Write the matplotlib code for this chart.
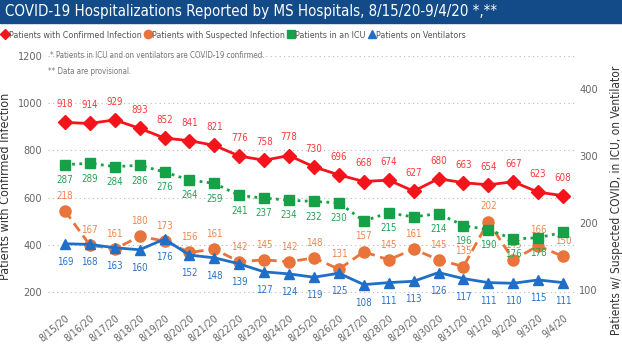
import matplotlib.pyplot as plt
import matplotlib.patches as mpatches
from matplotlib.lines import Line2D

plt.rcParams['font.family'] = ['DejaVu Sans']
plt.rcParams['font.stretch'] = 'condensed'

dates = ['8/15/20', '8/16/20', '8/17/20', '8/18/20', '8/19/20', '8/20/20', '8/21/20',
         '8/22/20', '8/23/20', '8/24/20', '8/25/20', '8/26/20', '8/27/20', '8/28/20',
         '8/29/20', '8/30/20', '8/31/20', '9/1/20', '9/2/20', '9/3/20', '9/4/20']
confirmed = [918, 914, 929, 893, 852, 841, 821, 776, 758, 778, 730, 696, 668, 674,
             627, 680, 663, 654, 667, 623, 608]
suspected = [218, 167, 161, 180, 173, 156, 161, 142, 145, 142, 148, 131, 157, 145,
             161, 145, 135, 202, 145, 166, 150]
icu = [287, 289, 284, 286, 276, 264, 259, 241, 237, 234, 232, 230, 203, 215,
       209, 214, 196, 190, 176, 178, 186]
vent = [169, 168, 163, 160, 176, 152, 148, 139, 127, 124, 119, 125, 108, 111,
        113, 126, 117, 111, 110, 115, 111]
# labels hidden in the original (overlap)
icu_hidden = [12, 14, 20]

RED = '#F5141B'
ORANGE = '#E8743B'
GREEN = '#16A047'
BLUE = '#1F6FC9'
GREY = '#666666'

fig = plt.figure(figsize=(6.22, 3.52), dpi=100)
W, H = 622, 352

# title bar
fig.patches.append(mpatches.Rectangle((0, 1 - 23 / H), 1, 23 / H, transform=fig.transFigure,
                                      color='#124B87', zorder=0))
fig.text(5 / W, 1 - 11.5 / H, 'COVID-19 Hospitalizations Reported by MS Hospitals, 8/15/20-9/4/20 *,**',
         color='white', fontsize=10.8, va='center', ha='left')

ax = fig.add_axes([48 / W, 1 - 305 / H, (575 - 48) / W, 255 / H])
ax2 = ax.twinx()
x = list(range(len(dates)))

ax.set_xlim(-0.68, 20.48)
ax.set_ylim(145, 1225)
ax2.set_ylim(77.6, 458)

for a in (ax, ax2):
    for s in a.spines.values():
        s.set_visible(False)
    a.tick_params(length=0, colors=GREY, labelsize=7.8)

ax.set_yticks([200, 400, 600, 800, 1000, 1200])
ax.grid(axis='y', color='#BBBBBB', linestyle=(0, (1, 3)), linewidth=0.8)
ax.set_axisbelow(True)
ax.tick_params(axis='y', pad=4)
ax2.set_yticks([100, 200, 300, 400])
ax2.tick_params(axis='y', pad=3)

ax.set_xticks(x)
ax.set_xticklabels(dates, rotation=40, ha='right', rotation_mode='anchor', fontsize=7.5)
ax.tick_params(axis='x', pad=6)

ax.plot(x, confirmed, color=RED, lw=2, marker='D', ms=7, zorder=5)
ax2.plot(x, icu, color=GREEN, lw=2, linestyle=(0, (1, 1.6)), marker='s', ms=6.5, zorder=4)
ax2.plot(x, suspected, color=ORANGE, lw=2, linestyle=(0, (3.5, 2)), marker='o', ms=8, zorder=3)
ax2.plot(x, vent, color=BLUE, lw=2, marker='^', ms=7.5, zorder=3)

lab = dict(ha='center', va='center', fontsize=7, textcoords='offset points')
for i in x:
    ax.annotate(str(confirmed[i]), (i, confirmed[i]), xytext=(0, 13), color='#FF3838', **lab)
    ax2.annotate(str(suspected[i]), (i, suspected[i]), xytext=(0, 11), color='#F08550', **lab)
    ax2.annotate(str(vent[i]), (i, vent[i]), xytext=(0, -13), color='#2A73C8', **lab)
    if i not in icu_hidden:
        ax2.annotate(str(icu[i]), (i, icu[i]), xytext=(0, -11), color='#22A355', **lab)

ax.set_ylabel('Patients with Confirmed Infection', fontsize=9, color='#333333')
ax.yaxis.set_label_coords(-(48 - 12) / (575 - 48), 0.465)
ax2.set_ylabel('Patients w/ Suspected COVID, in ICU, on Ventilator', fontsize=8.6, color='#333333')
ax2.yaxis.set_label_coords(1 + (610 - 575) / (575 - 48), 0.41)

handles = [Line2D([], [], color=RED, marker='D', ls='', ms=5),
           Line2D([], [], color=ORANGE, marker='o', ls='', ms=6),
           Line2D([], [], color=GREEN, marker='s', ls='', ms=5.5),
           Line2D([], [], color=BLUE, marker='^', ls='', ms=6)]
names = ['Patients with Confirmed Infection', 'Patients with Suspected Infection',
         'Patients in an ICU', 'Patients on Ventilators']
fig.legend(handles, names, loc='center left', bbox_to_anchor=(0, 1 - 35 / H), ncol=4,
           frameon=False, fontsize=6.4, labelcolor='#555555', handlelength=0.8,
           handletextpad=0.05, columnspacing=0.3, borderaxespad=0, borderpad=0.2)

fig.text(50 / W, 1 - 55 / H, '* Patients in ICU and on ventilators are COVID-19 confirmed.',
         fontsize=5.7, color='#777777', va='center')
fig.text(48 / W, 1 - 72 / H, '** Data are provisional.', fontsize=5.7, color='#777777', va='center')

fig.savefig('out.png', dpi=100)
